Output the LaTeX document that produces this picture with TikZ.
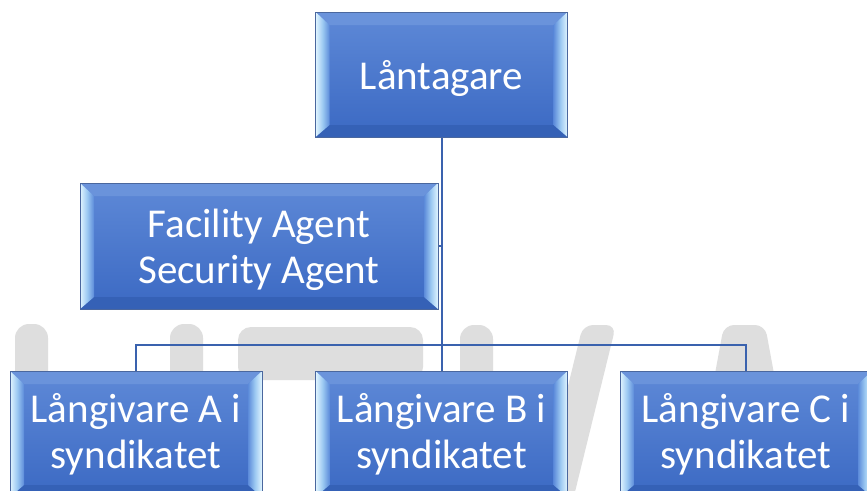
\documentclass[tikz,border=0pt]{standalone}
\usepackage{fontspec}
\setmainfont{Carlito}
\definecolor{facetop}{HTML}{5E89D7}
\definecolor{facebot}{HTML}{3B69C3}
\definecolor{bevtop}{HTML}{6A93DB}
\definecolor{bevbot}{HTML}{3561B6}
\definecolor{bevout}{HTML}{E2F5FF}
\definecolor{bevmid}{HTML}{9DCAF2}
\definecolor{bevin}{HTML}{5C8BDA}
\definecolor{boxedge}{HTML}{4A679E}
\definecolor{conncol}{HTML}{3A62AE}
\definecolor{wmcol}{HTML}{DEDEDE}
\pgfdeclarelayer{bg}
\pgfsetlayers{bg,main}
\tikzset{
  bevelbox/.style={draw=boxedge, line width=0.7pt, inner sep=0pt,
    minimum height=126pt, minimum width=252pt, text=white, align=center,
    font=\fontsize{41}{46}\selectfont, top color=facetop, bottom color=facebot,
    path picture={
      \coordinate (pnw) at (path picture bounding box.north west);
      \coordinate (pne) at (path picture bounding box.north east);
      \coordinate (psw) at (path picture bounding box.south west);
      \coordinate (pse) at (path picture bounding box.south east);
      \coordinate (inw) at ([xshift=14pt,yshift=-13pt]pnw);
      \coordinate (ine) at ([xshift=-14pt,yshift=-13pt]pne);
      \coordinate (isw) at ([xshift=14pt,yshift=12pt]psw);
      \coordinate (ise) at ([xshift=-14pt,yshift=12pt]pse);
      \fill[bevtop] (pnw) -- (pne) -- (ine) -- (inw) -- cycle;
      \fill[bevbot] (psw) -- (pse) -- (ise) -- (isw) -- cycle;
      \shade[left color=bevout, right color=bevin, middle color=bevmid]
        (pnw) -- (inw) -- (isw) -- (psw) -- cycle;
      \shade[left color=bevin, right color=bevout, middle color=bevmid]
        (pne) -- (ine) -- (ise) -- (pse) -- cycle;
    }},
  connline/.style={draw=conncol, line width=2pt},
  wmark/.style={fill=wmcol}
}
\begin{document}
\begin{tikzpicture}[x=1pt, y=-1pt]
\useasboundingbox (0,0) rectangle (867,490);

% boxes
\node[bevelbox, minimum height=125pt, text depth=0pt] (L) at (441.5,74.5) {Låntagare};
\node[bevelbox, minimum width=358pt, text depth=0pt] (F) at (259,246) {Facility Agent\\Security Agent};
\node[bevelbox] (A) at (136,434) {Långivare A i\\syndikatet};
\node[bevelbox] (B) at (441.5,434) {Långivare B i\\syndikatet};
\node[bevelbox] (C) at (746,434) {Långivare C i\\syndikatet};
\coordinate (bus) at (441.5,345);

\begin{pgfonlayer}{bg}
\fill[white] (0,0) rectangle (867,490);
% watermark
\fill[wmark, rounded corners=14pt] (15,500) rectangle (48,324);
\fill[wmark, rounded corners=14pt] (170,500) rectangle (203,324);
\fill[wmark, rounded corners=13pt] (238,327) rectangle (423,380);
\fill[wmark, rounded corners=14pt] (460,420) rectangle (493,325);
\fill[wmark, rounded corners=10pt] (583,325) -- (616,325) -- (573,500) -- (540,500) -- cycle;
\fill[wmark, rounded corners=10pt] (724,325) -- (765,325) -- (777,390) -- (712,390) -- cycle;
% connectors
\draw[connline] (L.south) -- (B.north);
\draw[connline] (A.north) -- (A.north |- bus) -- (C.north |- bus) -- (C.north);
\draw[connline] (F.east) -- (F.east -| L.south);
\end{pgfonlayer}
\end{tikzpicture}
\end{document}
